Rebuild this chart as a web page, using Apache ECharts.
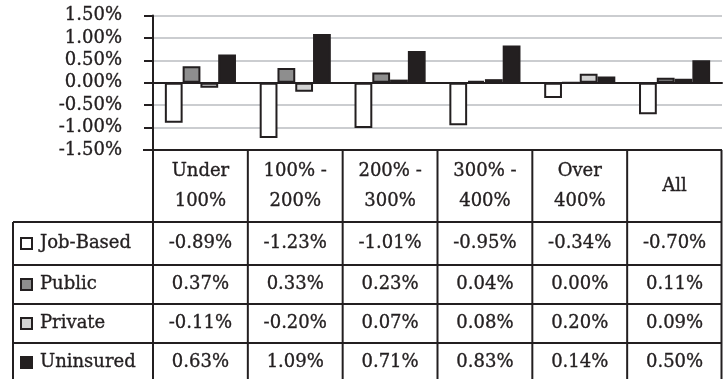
<!DOCTYPE html>
<html>
<head>
<meta charset="utf-8">
<script src="https://cdn.jsdelivr.net/npm/echarts@6/dist/echarts.min.js"></script>
<style>
  html, body { margin: 0; padding: 0; background: #ffffff; }
  #chart { width: 723px; height: 379px; }
</style>
</head>
<body>
<div id="chart"></div>
<script>
// Income groups (share of poverty line) and the change in coverage, in percent
const categories = ['Under\n100%', '100% -\n200%', '200% -\n300%', '300% -\n400%', 'Over\n400%', 'All'];
const seriesNames = ['Job-Based', 'Public', 'Private', 'Uninsured'];
const jobBased  = [-0.89, -1.23, -1.01, -0.95, -0.34, -0.70];
const publicCov = [0.37, 0.33, 0.23, 0.04, 0.00, 0.11];
const privateCov = [-0.11, -0.20, 0.07, 0.08, 0.20, 0.09];
const uninsured = [0.63, 1.09, 0.71, 0.83, 0.14, 0.50];
const yTicks = { min: -1.5, max: 1.5, step: 0.5 };

const seriesValues = [jobBased, publicCov, privateCov, uninsured];
const fills = ['#ffffff', '#8e8e8e', '#d3d3d3', '#231f20'];
const ink = '#231f20';
const font = '"DejaVu Serif", serif';
const fontSize = 18;
// a hair of outline gives the serif text a slightly heavier colour
const textWeight = { textBorderColor: ink, textBorderWidth: 0.35 };

const fmt = v => v.toFixed(2) + '%';

const chart = echarts.init(document.getElementById('chart'), null, { renderer: 'canvas' });

const option = {
  animation: false,
  backgroundColor: '#ffffff',
  textStyle: { fontFamily: font, color: ink },
  grid: { left: 153, right: 1, top: 15.5, bottom: 229, containLabel: false },
  xAxis: {
    type: 'category',
    data: categories,
    axisLine: { onZero: true, lineStyle: { color: ink, width: 2 } },
    axisTick: { show: false },
    axisLabel: { show: false },
    splitLine: { show: false }
  },
  yAxis: {
    type: 'value',
    min: yTicks.min,
    max: yTicks.max,
    interval: yTicks.step,
    axisLine: { show: true, lineStyle: { color: ink, width: 2 } },
    axisTick: { show: true, inside: false, length: 9, lineStyle: { color: ink, width: 2 } },
    axisLabel: Object.assign({
      formatter: v => fmt(v),
      fontFamily: font,
      fontSize: fontSize,
      color: ink,
      margin: 31
    }, textWeight),
    splitLine: { show: true, lineStyle: { color: '#cbcdd0', width: 2 } }
  },
  series: seriesNames.map((name, i) => ({
    name: name,
    type: 'bar',
    data: seriesValues[i],
    barGap: '0%',
    barCategoryGap: '25%',
    itemStyle: { color: fills[i], borderColor: ink, borderWidth: 2 }
  }))
};

chart.setOption(option);

// Data table under the plot, columns aligned with the category axis
function buildTable() {
  const centers = categories.map((c, i) => chart.convertToPixel({ xAxisIndex: 0 }, i));
  const band = centers.length > 1 ? centers[1] - centers[0] : 95;
  const edges = centers.map(c => c - band / 2);
  edges.push(centers[centers.length - 1] + band / 2);
  const top = chart.convertToPixel({ yAxisIndex: 0 }, yTicks.min);

  const tableLeft = 13;
  const headerBottom = top + 72;
  const rowBounds = [headerBottom, headerBottom + 43, headerBottom + 82, headerBottom + 121, headerBottom + 160];
  const bottom = 379;
  const right = edges[edges.length - 1];

  const els = [];
  const line = (x1, y1, x2, y2) => els.push({
    type: 'line', silent: true, z: 10,
    shape: { x1, y1, x2, y2 },
    style: { stroke: ink, lineWidth: 2 }
  });
  const text = (x, y, str, align) => els.push({
    type: 'text', silent: true, z: 11, x, y,
    style: Object.assign({
      text: str, fontFamily: font, fontSize: fontSize, fill: ink,
      align: align, verticalAlign: 'middle', lineHeight: 30
    }, { stroke: ink, lineWidth: textWeight.textBorderWidth })
  });

  // table top border (plot bottom)
  line(edges[0] - 10, top, right, top);
  // row separators
  for (let r = 0; r < 4; r++) line(tableLeft, rowBounds[r], right, rowBounds[r]);
  // column separators
  edges.forEach((x, k) => {
    const xx = k === edges.length - 1 ? x - 0.5 : x;
    line(xx, top, xx, bottom);
  });
  // left border of the row-header column
  line(tableLeft, headerBottom, tableLeft, bottom);

  // category header
  categories.forEach((c, i) => text(centers[i], (top + headerBottom) / 2, c, 'center'));

  // series rows: key, name, values
  seriesNames.forEach((name, s) => {
    const cy = (rowBounds[s] + rowBounds[s + 1]) / 2;
    els.push({
      type: 'rect', silent: true, z: 11,
      shape: { x: 21, y: cy - 5.5, width: 11, height: 11 },
      style: { fill: fills[s], stroke: ink, lineWidth: 2 }
    });
    text(40, cy, name, 'left');
    seriesValues[s].forEach((v, i) => text(centers[i], cy, fmt(v), 'center'));
  });

  chart.setOption({ graphic: { elements: els } });
}

buildTable();
</script>
</body>
</html>
